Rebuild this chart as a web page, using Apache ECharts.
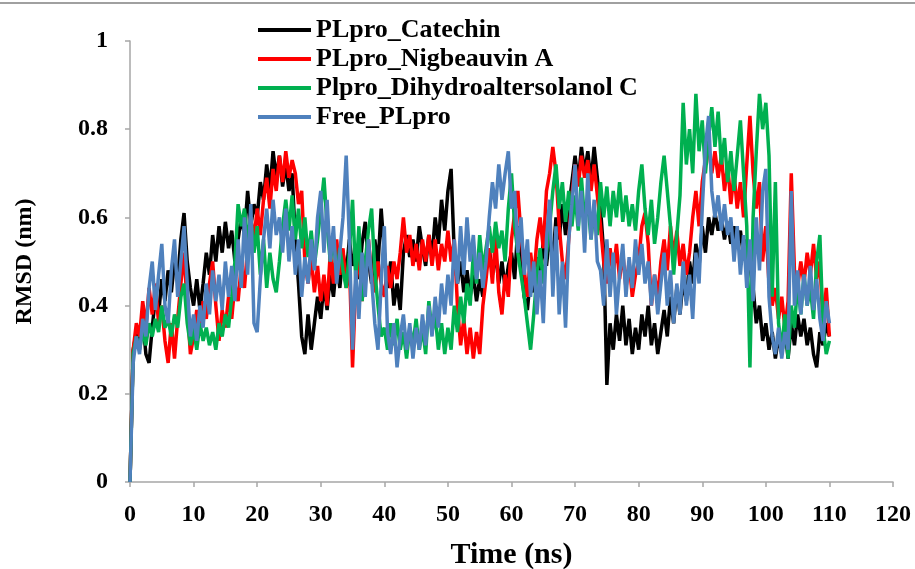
<!DOCTYPE html>
<html>
<head>
<meta charset="utf-8">
<script src="https://cdn.jsdelivr.net/npm/echarts@6/dist/echarts.min.js"></script>
<style>
html, body { margin: 0; padding: 0; background: #fff; }
#chart { width: 915px; height: 569px; }
</style>
</head>
<body>
<div id="chart"></div>
<script>
// RMSD traces, one value every 0.5 ns from 0 to 110 ns
var stepNs = 0.5;
var seriesNames = ['PLpro_Catechin', 'PLpro_Nigbeauvin A', 'Plpro_Dihydroaltersolanol C', 'Free_PLpro'];
var xTicks = [0, 10, 20, 30, 40, 50, 60, 70, 80, 90, 100, 110, 120];
var yTicks = [0, 0.2, 0.4, 0.6, 0.8, 1];

var catechin = [
	0, 0.30, 0.34, 0.31, 0.37, 0.29, 0.27, 0.35, 0.42, 0.38, 0.46, 0.41, 0.48, 0.43, 0.50, 0.46, 0.55, 0.61, 0.50, 0.44,
	0.40, 0.46, 0.39, 0.45, 0.52, 0.47, 0.56, 0.50, 0.58, 0.52, 0.59, 0.53, 0.57, 0.50, 0.55, 0.60, 0.56, 0.66, 0.58, 0.63,
	0.60, 0.68, 0.64, 0.72, 0.66, 0.75, 0.69, 0.74, 0.67, 0.72, 0.66, 0.70, 0.55, 0.45, 0.33, 0.29, 0.38, 0.30, 0.36, 0.42,
	0.37, 0.45, 0.39, 0.47, 0.42, 0.50, 0.44, 0.52, 0.47, 0.55, 0.49, 0.53, 0.46, 0.54, 0.59, 0.50, 0.45, 0.55, 0.49, 0.62,
	0.52, 0.44, 0.50, 0.40, 0.45, 0.39, 0.52, 0.56, 0.51, 0.55, 0.50, 0.58, 0.53, 0.49, 0.56, 0.51, 0.60, 0.54, 0.64, 0.57,
	0.66, 0.71, 0.52, 0.45, 0.50, 0.43, 0.48, 0.42, 0.47, 0.41, 0.46, 0.42, 0.49, 0.53, 0.47, 0.52, 0.45, 0.50, 0.44, 0.49,
	0.52, 0.46, 0.58, 0.50, 0.42, 0.39, 0.47, 0.43, 0.51, 0.45, 0.55, 0.49, 0.56, 0.50, 0.60, 0.55, 0.63, 0.56, 0.62, 0.68,
	0.74, 0.68, 0.76, 0.70, 0.75, 0.68, 0.76, 0.69, 0.62, 0.52, 0.22, 0.36, 0.30, 0.38, 0.32, 0.40, 0.31, 0.37, 0.29, 0.35,
	0.30, 0.38, 0.33, 0.40, 0.31, 0.36, 0.29, 0.34, 0.39, 0.33, 0.42, 0.36, 0.44, 0.38, 0.46, 0.41, 0.50, 0.45, 0.54, 0.49,
	0.58, 0.52, 0.60, 0.56, 0.61, 0.57, 0.60, 0.55, 0.59, 0.54, 0.58, 0.53, 0.57, 0.51, 0.55, 0.49, 0.44, 0.36, 0.40, 0.32,
	0.36, 0.30, 0.34, 0.28, 0.33, 0.29, 0.35, 0.28, 0.36, 0.31, 0.38, 0.33, 0.37, 0.31, 0.35, 0.29, 0.26, 0.34, 0.31, 0.36, 0.33
];
var nigbeauvin = [
	0, 0.30, 0.36, 0.33, 0.41, 0.35, 0.44, 0.38, 0.45, 0.36, 0.40, 0.32, 0.27, 0.36, 0.28, 0.37, 0.45, 0.52, 0.40, 0.29,
	0.33, 0.39, 0.34, 0.41, 0.37, 0.45, 0.50, 0.40, 0.32, 0.39, 0.35, 0.42, 0.37, 0.45, 0.41, 0.49, 0.44, 0.53, 0.60, 0.55,
	0.62, 0.56, 0.64, 0.69, 0.62, 0.71, 0.66, 0.74, 0.68, 0.75, 0.69, 0.73, 0.70, 0.63, 0.66, 0.50, 0.45, 0.51, 0.43, 0.49,
	0.41, 0.47, 0.40, 0.52, 0.45, 0.55, 0.47, 0.53, 0.44, 0.50, 0.26, 0.45, 0.52, 0.41, 0.49, 0.55, 0.47, 0.43, 0.50, 0.45,
	0.42, 0.49, 0.44, 0.50, 0.46, 0.52, 0.60, 0.52, 0.56, 0.49, 0.54, 0.48, 0.55, 0.50, 0.56, 0.49, 0.55, 0.48, 0.54, 0.50,
	0.57, 0.50, 0.55, 0.40, 0.31, 0.37, 0.29, 0.35, 0.28, 0.34, 0.29, 0.40, 0.46, 0.53, 0.45, 0.56, 0.43, 0.38, 0.47, 0.42,
	0.55, 0.61, 0.66, 0.56, 0.48, 0.42, 0.52, 0.46, 0.55, 0.60, 0.53, 0.66, 0.70, 0.76, 0.70, 0.58, 0.50, 0.46, 0.55, 0.65,
	0.72, 0.67, 0.74, 0.69, 0.73, 0.66, 0.72, 0.65, 0.58, 0.50, 0.45, 0.53, 0.47, 0.54, 0.46, 0.52, 0.44, 0.50, 0.42, 0.47,
	0.50, 0.58, 0.61, 0.54, 0.40, 0.47, 0.42, 0.50, 0.55, 0.48, 0.58, 0.51, 0.57, 0.49, 0.54, 0.47, 0.52, 0.60, 0.66, 0.58,
	0.68, 0.73, 0.76, 0.70, 0.75, 0.69, 0.74, 0.66, 0.72, 0.63, 0.70, 0.62, 0.68, 0.60, 0.72, 0.83, 0.70, 0.62, 0.68, 0.50,
	0.58, 0.45, 0.40, 0.44, 0.37, 0.42, 0.35, 0.41, 0.70, 0.48, 0.44, 0.50, 0.45, 0.52, 0.47, 0.54, 0.46, 0.50, 0.36, 0.44, 0.33
];
var dihydro = [
	0, 0.29, 0.33, 0.30, 0.34, 0.31, 0.36, 0.33, 0.37, 0.34, 0.40, 0.35, 0.37, 0.33, 0.38, 0.35, 0.42, 0.45, 0.36, 0.31,
	0.35, 0.30, 0.36, 0.32, 0.35, 0.31, 0.34, 0.30, 0.36, 0.33, 0.38, 0.35, 0.42, 0.50, 0.63, 0.58, 0.62, 0.55, 0.60, 0.52,
	0.58, 0.47, 0.55, 0.44, 0.52, 0.46, 0.43, 0.50, 0.58, 0.64, 0.57, 0.65, 0.55, 0.62, 0.53, 0.60, 0.51, 0.57, 0.49, 0.55,
	0.62, 0.69, 0.58, 0.50, 0.55, 0.47, 0.53, 0.48, 0.44, 0.52, 0.64, 0.46, 0.58, 0.41, 0.50, 0.57, 0.62, 0.48, 0.40, 0.33,
	0.35, 0.30, 0.36, 0.31, 0.37, 0.30, 0.34, 0.28, 0.35, 0.31, 0.37, 0.30, 0.35, 0.29, 0.41, 0.34, 0.38, 0.30, 0.36, 0.29,
	0.35, 0.30, 0.40, 0.34, 0.42, 0.36, 0.45, 0.40, 0.52, 0.45, 0.56, 0.48, 0.53, 0.58, 0.52, 0.59, 0.53, 0.57, 0.50, 0.62,
	0.70, 0.58, 0.52, 0.47, 0.42, 0.36, 0.30, 0.38, 0.47, 0.53, 0.45, 0.52, 0.58, 0.66, 0.72, 0.62, 0.68, 0.59, 0.66, 0.58,
	0.65, 0.57, 0.69, 0.59, 0.64, 0.55, 0.62, 0.56, 0.68, 0.60, 0.67, 0.58, 0.66, 0.60, 0.68, 0.59, 0.65, 0.58, 0.63, 0.57,
	0.66, 0.72, 0.62, 0.56, 0.64, 0.54, 0.60, 0.68, 0.74, 0.66, 0.58, 0.47, 0.56, 0.65, 0.86, 0.72, 0.80, 0.70, 0.88, 0.75,
	0.82, 0.70, 0.78, 0.85, 0.76, 0.84, 0.72, 0.78, 0.68, 0.75, 0.66, 0.74, 0.82, 0.70, 0.58, 0.26, 0.60, 0.75, 0.88, 0.80,
	0.86, 0.74, 0.42, 0.68, 0.36, 0.30, 0.38, 0.28, 0.40, 0.35, 0.45, 0.38, 0.47, 0.40, 0.44, 0.37, 0.50, 0.56, 0.35, 0.29, 0.32
];
var freePLpro = [
	0, 0.27, 0.33, 0.29, 0.37, 0.33, 0.44, 0.50, 0.39, 0.47, 0.54, 0.40, 0.36, 0.48, 0.55, 0.42, 0.50, 0.58, 0.45, 0.33,
	0.38, 0.32, 0.40, 0.35, 0.45, 0.38, 0.48, 0.41, 0.47, 0.39, 0.50, 0.42, 0.49, 0.41, 0.55, 0.44, 0.60, 0.47, 0.63, 0.36,
	0.34, 0.46, 0.55, 0.62, 0.53, 0.64, 0.56, 0.60, 0.52, 0.62, 0.50, 0.58, 0.47, 0.55, 0.42, 0.51, 0.45, 0.55, 0.48, 0.60,
	0.66, 0.52, 0.64, 0.50, 0.58, 0.45, 0.52, 0.60, 0.74, 0.55, 0.30, 0.48, 0.37, 0.52, 0.42, 0.55, 0.46, 0.36, 0.30, 0.45,
	0.58, 0.34, 0.29, 0.36, 0.26, 0.33, 0.38, 0.30, 0.36, 0.28, 0.35, 0.30, 0.38, 0.31, 0.40, 0.33, 0.42, 0.35, 0.45, 0.38,
	0.47, 0.40, 0.55, 0.45, 0.58, 0.47, 0.60, 0.50, 0.56, 0.46, 0.52, 0.44, 0.50, 0.60, 0.68, 0.62, 0.72, 0.64, 0.70, 0.75,
	0.62, 0.66, 0.52, 0.60, 0.47, 0.55, 0.42, 0.50, 0.38, 0.48, 0.36, 0.55, 0.64, 0.42, 0.58, 0.38, 0.50, 0.35, 0.55, 0.63,
	0.72, 0.58, 0.66, 0.52, 0.70, 0.55, 0.64, 0.50, 0.48, 0.40, 0.55, 0.42, 0.52, 0.38, 0.47, 0.54, 0.42, 0.51, 0.44, 0.55,
	0.47, 0.54, 0.45, 0.50, 0.40, 0.47, 0.38, 0.45, 0.52, 0.40, 0.48, 0.36, 0.45, 0.38, 0.50, 0.40, 0.47, 0.37, 0.52, 0.45,
	0.62, 0.76, 0.83, 0.66, 0.60, 0.65, 0.57, 0.63, 0.56, 0.60, 0.50, 0.58, 0.47, 0.56, 0.44, 0.55, 0.41, 0.60, 0.48, 0.66,
	0.71, 0.42, 0.33, 0.29, 0.35, 0.28, 0.34, 0.30, 0.66, 0.40, 0.48, 0.38, 0.47, 0.40, 0.49, 0.39, 0.46, 0.37, 0.32, 0.41, 0.36
];

var colors = ['#000000', '#ff0000', '#00b050', '#4f81bd'];
var allValues = [catechin, nigbeauvin, dihydro, freePLpro];
var fontFam = '"Liberation Serif", "Times New Roman", serif';

function toPoints(vals) {
	return vals.map(function (v, i) { return [i * stepNs, v]; });
}

var chart = echarts.init(document.getElementById('chart'));
var option = {
	animation: false,
	backgroundColor: '#fff',
	color: colors,
	textStyle: { fontFamily: fontFam, fontWeight: 'bold', color: '#000' },
	graphic: [{
		type: 'line',
		shape: { x1: 0, y1: 3, x2: 915, y2: 3 },
		style: { stroke: '#808080', lineWidth: 1.5 }
	}],
	grid: { left: 130, right: 22, top: 41, bottom: 87, outerBoundsMode: 'none' },
	legend: {
		orient: 'vertical',
		left: 253,
		top: 12,
		icon: 'rect',
		itemWidth: 53,
		itemHeight: 4,
		itemGap: 3,
		data: seriesNames,
		textStyle: { fontFamily: fontFam, fontWeight: 'bold', fontSize: 26, color: '#000' }
	},
	xAxis: {
		type: 'value',
		min: xTicks[0],
		max: xTicks[xTicks.length - 1],
		interval: 10,
		name: 'Time (ns)',
		nameLocation: 'middle',
		nameGap: 58,
		nameTextStyle: { fontFamily: fontFam, fontWeight: 'bold', fontSize: 30, color: '#000' },
		axisLine: { lineStyle: { color: '#a6a6a6', width: 1.5 } },
		axisTick: { show: true, length: 5, lineStyle: { color: '#a6a6a6', width: 1.5 } },
		axisLabel: { margin: 21, fontFamily: fontFam, fontWeight: 'bold', fontSize: 24, color: '#000' },
		splitLine: { show: false }
	},
	yAxis: {
		type: 'value',
		min: yTicks[0],
		max: yTicks[yTicks.length - 1],
		interval: 0.2,
		name: 'RMSD (nm)',
		nameLocation: 'middle',
		nameGap: 93,
		nameTextStyle: { fontFamily: fontFam, fontWeight: 'bold', fontSize: 24, color: '#000' },
		axisLine: { show: true, lineStyle: { color: '#a6a6a6', width: 1.5 } },
		axisTick: { show: true, length: 5, lineStyle: { color: '#a6a6a6', width: 1.5 } },
		axisLabel: { margin: 22, fontFamily: fontFam, fontWeight: 'bold', fontSize: 24, color: '#000' },
		splitLine: { show: false }
	},
	series: seriesNames.map(function (name, k) {
		return {
			name: name,
			type: 'line',
			symbol: 'none',
			data: toPoints(allValues[k]),
			lineStyle: { width: 3.5, color: colors[k] },
			itemStyle: { color: colors[k] }
		};
	})
};
chart.setOption(option);
</script>
</body>
</html>
